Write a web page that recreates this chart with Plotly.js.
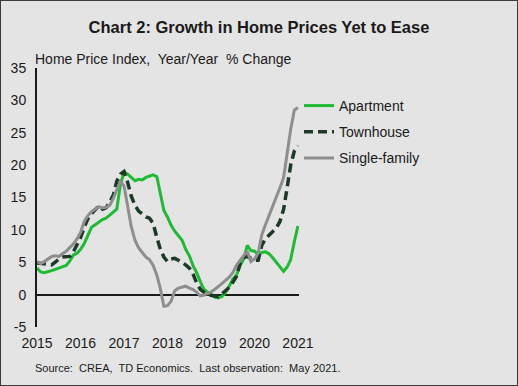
<!DOCTYPE html>
<html>
<head>
<meta charset="utf-8">
<script src="https://cdn.plot.ly/plotly-3.0.1.min.js"></script>
<style>
html,body{margin:0;padding:0;background:#e4e4e4;}
#chart{width:518px;height:386px;box-sizing:border-box;border:1px solid #3a3a3a;}
</style>
</head>
<body>
<div id="chart"></div>
<script>
// Monthly observations, May 2015 to May 2021
var startYear = 2015, startMonth = 5, nMonths = 73;
var months = [];
for (var k = 0; k < nMonths; k++) {
  var m = startMonth - 1 + k;
  var y = startYear + Math.floor(m / 12);
  var mm = (m % 12) + 1;
  months.push(y + '-' + (mm < 10 ? '0' : '') + mm + '-01');
}

var apartment = [
  4.1, 3.5, 3.4, 3.5, 3.7, 3.9, 4.1, 4.3, 4.5, 5.2, 6.1, 6.4,
  7.0, 7.9, 9.2, 10.4, 10.8, 11.2, 11.6, 11.8, 12.3, 12.7, 13.2, 17.0,
  18.9, 18.6, 18.1, 17.6, 17.8, 17.7, 18.1, 18.3, 18.5, 18.2, 15.8, 13.0,
  12.0, 10.7, 9.8, 9.1, 8.4, 7.0, 6.0, 4.5, 3.4, 2.0, 0.9, 0.4,
  0.1, -0.4, -0.5, -0.3, 0.3, 1.3, 2.4, 3.0, 4.5, 5.5, 7.6, 6.8,
  6.7, 6.2, 6.5, 6.6, 6.3, 5.7, 5.0, 4.3, 3.6, 4.3, 5.4, 8.2,
  10.6
];
var townhouse = [
  4.9, 4.8, 4.7, 4.6, 4.6, 5.0, 5.5, 5.8, 5.9, 5.9, 6.6, 7.6,
  8.8, 10.4, 11.7, 12.5, 13.1, 13.7, 13.2, 13.4, 14.3, 15.4, 17.5, 18.6,
  19.0, 17.3, 15.2, 13.8, 12.9, 12.5, 12.0, 11.8, 11.0, 8.8, 7.1, 5.8,
  5.1, 5.5, 5.6, 5.3, 5.0, 4.6, 4.1, 3.2, 1.8, 0.8, 0.4, 0.1,
  -0.1, -0.2, -0.3, 0.1, 0.6, 1.1, 1.9, 2.8, 4.8, 5.7, 5.9, 5.6,
  5.3, 5.3, 7.6, 8.6, 9.2, 9.7, 10.3, 11.3, 13.2, 16.7, 20.0, 22.2,
  23.0
];
var singleFamily = [
  5.1, 4.8, 5.1, 5.5, 5.9, 6.0, 5.9, 6.3, 6.7, 7.3, 7.8, 8.6,
  9.6, 11.3, 12.2, 12.8, 13.2, 13.6, 13.4, 13.5, 13.8, 14.9, 16.2, 17.5,
  16.8, 13.8, 10.5, 8.4, 7.2, 6.5, 5.8, 5.4, 4.5, 3.0, 1.0, -1.8,
  -1.7, -1.0, 0.6, 1.0, 1.1, 1.3, 1.0, 0.8, 0.4, -0.2, -0.1, 0.1,
  0.4, 0.8, 1.2, 1.7, 2.2, 2.7, 3.4, 4.5, 5.3, 6.1, 6.7, 5.1,
  5.5, 6.4, 9.2, 10.8, 12.2, 13.6, 14.9, 16.5, 18.1, 22.0, 25.5, 28.5,
  28.9
];

var xTickVals = ['2015-05-01','2016-05-01','2017-05-01','2018-05-01','2019-05-01','2020-05-01','2021-05-01'];
var xTickText = ['2015','2016','2017','2018','2019','2020','2021'];
var yTickVals = [-5, 0, 5, 10, 15, 20, 25, 30, 35];
var yTickText = ['-5', '0', '5', '10', '15', '20', '25', '30', '35'];

var FONT = 'Liberation Sans, Arial, sans-serif';
var INK = '#1a1a1a';

var traces = [
  {x: months, y: apartment, name: 'Apartment', type: 'scatter', mode: 'lines',
   legendgroup: 'a', line: {color: '#1fba33', width: 3}},
  {x: months, y: townhouse, name: 'Townhouse', type: 'scatter', mode: 'lines',
   legendgroup: 'b', line: {color: '#1c3a26', width: 3.5, dash: '9px,5px'}},
  {x: months, y: singleFamily, name: 'Single-family', type: 'scatter', mode: 'lines',
   legendgroup: 'c', line: {color: '#8e8e8e', width: 3}}
];

var layout = {
  width: 516, height: 384,
  margin: {l: 36, r: 22, t: 67, b: 58, pad: 0},
  paper_bgcolor: '#e4e4e4',
  plot_bgcolor: '#e4e4e4',
  font: {family: FONT, size: 14, color: INK},
  title: {text: '<b>Chart 2: Growth in Home Prices Yet to Ease</b>',
          font: {family: FONT, size: 16.5, color: INK},
          x: 0.5, xanchor: 'center', y: 1 - 26/384, yanchor: 'middle', xref: 'container', yref: 'container'},
  xaxis: {type: 'date', range: ['2015-05-01', '2021-05-10'],
          tickvals: xTickVals, ticktext: xTickText, showgrid: false, zeroline: false,
          showline: false, ticks: '', ticklabelstandoff: 6,
          tickfont: {family: FONT, size: 14, color: INK}, fixedrange: true},
  yaxis: {range: [-5, 35], tickvals: yTickVals, ticktext: yTickText, showgrid: false,
          showline: true, linecolor: INK, linewidth: 2, ticks: '',
          zeroline: true, zerolinecolor: INK, zerolinewidth: 2,
          ticklabelstandoff: 6,
          tickfont: {family: FONT, size: 14, color: INK}, fixedrange: true},
  showlegend: true,
  legend: {xref: 'container', yref: 'container', x: 298/516, y: 1 - 89/384,
           xanchor: 'left', yanchor: 'top', bgcolor: 'rgba(0,0,0,0)',
           font: {family: FONT, size: 14, color: INK},
           traceorder: 'grouped', tracegroupgap: 5},
  annotations: [
    {text: 'Home Price Index,  Year/Year  % Change', xref: 'paper', yref: 'paper',
     x: -7/458, y: 1 + 9/259, xanchor: 'left', yanchor: 'middle', showarrow: false,
     font: {family: FONT, size: 14, color: INK}},
    {text: 'Source:  CREA,  TD Economics.  Last observation:  May 2021.', xref: 'paper', yref: 'paper',
     x: -7/458, y: -41/259, xanchor: 'left', yanchor: 'middle', showarrow: false,
     font: {family: FONT, size: 11, color: INK}}
  ]
};

Plotly.newPlot('chart', traces, layout, {displayModeBar: false, staticPlot: true});
</script>
</body>
</html>
